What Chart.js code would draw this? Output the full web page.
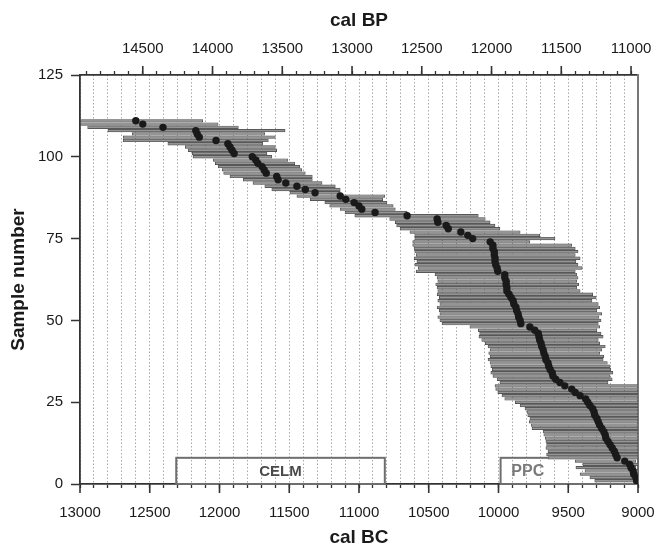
<!DOCTYPE html>
<html>
<head>
<meta charset="utf-8">
<script src="https://cdn.jsdelivr.net/npm/chart.js@4.4.0/dist/chart.umd.min.js"></script>
<style>
  html, body { margin: 0; padding: 0; background: #fff; }
</style>
</head>
<body>
<canvas id="calChart" width="656" height="549"></canvas>
<script>
// one entry per sample, sample 1 first (bottom of the plot)
const medianBC = [
  9010, 9015, 9030, 9035, 9050, 9060, 9095, 9150, 9160, 9170,
  9185, 9200, 9215, 9230, 9235, 9245, 9260, 9275, 9285, 9295,
  9310, 9315, 9325, 9345, 9360, 9375, 9415, 9450, 9475, 9525,
  9560, 9590, 9610, 9615, 9630, 9640, 9645, 9660, 9665, 9675,
  9680, 9690, 9695, 9705, 9710, 9715, 9740, 9775, 9840, 9845,
  9855, 9860, 9870, 9875, 9890, 9895, 9910, 9925, 9940, 9940,
  9945, 9945, 9955, 9955, 10005, 10010, 10020, 10025, 10025, 10030,
  10030, 10040, 10040, 10060, 10185, 10220, 10270, 10360, 10375, 10435,
  10440, 10655, 10885, 10980, 11000, 11035, 11095, 11135, 11315, 11385,
  11445, 11525, 11580, 11590, 11665, 11680, 11695, 11725, 11740, 11765,
  11895, 11910, 11925, 11940, 12025, 12145, 12160, 12170, 12405, 12550, 12600
];
const olderBC = [
  9310, 9345, 9415, 9380, 9445, 9395, 9450, 9645, 9655, 9645,
  9660, 9655, 9660, 9665, 9675, 9680, 9760, 9765, 9780, 9775,
  9790, 9795, 9810, 9845, 9880, 9955, 9975, 10005, 10020, 10025,
  9990, 10010, 10040, 10055, 10045, 10055, 10060, 10075, 10060, 10070,
  10060, 10075, 10095, 10120, 10140, 10135, 10145, 10205, 10405, 10420,
  10435, 10420, 10425, 10440, 10420, 10435, 10425, 10440, 10435, 10440,
  10450, 10435, 10440, 10455, 10590, 10575, 10600, 10585, 10605, 10590,
  10600, 10605, 10615, 10615, 10600, 10600, 10635, 10705, 10730, 10740,
  10780, 11030, 11100, 11135, 11210, 11245, 11350, 11445, 11495, 11625,
  11675, 11760, 11830, 11925, 11970, 11980, 12010, 12030, 12045, 12190,
  12195, 12225, 12245, 12370, 12690, 12690, 12625, 12800, 12945, 12995, 12995
];
const youngerBC = [
  9000, 9000, 9010, 9000, 9015, 9000, 9015, 9000, 9000, 9000,
  9000, 9000, 9000, 9000, 9000, 9000, 9000, 9000, 9000, 9000,
  9000, 9000, 9000, 9000, 9000, 9000, 9000, 9000, 9000, 9000,
  9215, 9185, 9200, 9180, 9195, 9200, 9220, 9250, 9245, 9275,
  9260, 9235, 9275, 9285, 9250, 9265, 9295, 9275, 9285, 9265,
  9280, 9260, 9295, 9275, 9285, 9330, 9300, 9325, 9415, 9440,
  9425, 9440, 9430, 9440, 9450, 9400, 9430, 9445, 9415, 9450,
  9430, 9450, 9475, 9775, 9595, 9705, 9845, 9990, 10025, 10060,
  10095, 10145, 10655, 10740, 10755, 10800, 10830, 10815, 11135, 11135,
  11170, 11265, 11335, 11335, 11385, 11410, 11425, 11460, 11510, 11625,
  11660, 11590, 11600, 11690, 11650, 11600, 11675, 11530, 11865, 12010, 12120
];

const bcTicks = [13000, 12500, 12000, 11500, 11000, 10500, 10000, 9500, 9000];
const bpTicks = [14500, 14000, 13500, 13000, 12500, 12000, 11500, 11000];
const sampleTicks = [0, 25, 50, 75, 100, 125];

const periodNames = ['CELM', 'PPC'];
const periodStart = [12310, 9985];
const periodEnd = [10815, 9000];
const periodLabelAt = [11563, 9790];

Chart.defaults.font.family = '"Liberation Sans", Arial, sans-serif';
Chart.defaults.color = '#1a1a1a';

function hundreds(from, to) {
  const out = [];
  for (let v = from; v <= to; v += 100) out.push({ value: v });
  return out;
}

const periodBoxes = {
  id: 'periodBoxes',
  beforeDatasetsDraw(chart) {
    const { ctx, scales: { x, y } } = chart;
    const top = y.getPixelForValue(8);
    const bottom = y.getPixelForValue(0);
    ctx.save();
    periodNames.forEach((name, i) => {
      const x1 = x.getPixelForValue(periodStart[i]);
      const x2 = x.getPixelForValue(periodEnd[i]);
      ctx.strokeStyle = '#6e6e6e';
      ctx.lineWidth = 2;
      ctx.strokeRect(x1, top, x2 - x1, bottom - top);
      ctx.fillStyle = i === 0 ? '#4a4a4a' : '#7a7a7a';
      ctx.font = (i === 0 ? 'bold 15px ' : 'bold 16px ') + Chart.defaults.font.family;
      ctx.textAlign = 'center';
      ctx.textBaseline = 'middle';
      ctx.fillText(name, x.getPixelForValue(periodLabelAt[i]), (top + bottom) / 2 + 1);
    });
    ctx.restore();
  }
};

const majorTicks = {
  id: 'majorTicks',
  afterDraw(chart) {
    const { ctx, chartArea, scales } = chart;
    ctx.save();
    ctx.strokeStyle = '#333';
    ctx.lineWidth = 1.6;
    ctx.beginPath();
    bcTicks.forEach(v => {
      const px = scales.x.getPixelForValue(v);
      ctx.moveTo(px, chartArea.bottom);
      ctx.lineTo(px, chartArea.bottom + 9);
    });
    bpTicks.forEach(v => {
      const px = scales.xTop.getPixelForValue(v);
      ctx.moveTo(px, chartArea.top);
      ctx.lineTo(px, chartArea.top - 9);
    });
    ctx.stroke();
    ctx.restore();
  }
};

const ctx = document.getElementById('calChart').getContext('2d');
const calChart = new Chart(ctx, {
  type: 'bar',
  data: {
    datasets: [
      {
        type: 'scatter',
        label: 'Median',
        data: medianBC.map((m, i) => ({ x: m, y: i + 1 })),
        pointRadius: 3.7,
        pointBackgroundColor: '#1a1a1a',
        pointBorderWidth: 0,
        order: 1
      },
      {
        type: 'bar',
        label: 'Range',
        data: medianBC.map((m, i) => ({ y: i + 1, x: [olderBC[i], youngerBC[i]] })),
        backgroundColor: '#949494',
        borderColor: '#454545',
        borderWidth: 0.7,
        borderSkipped: false,
        barThickness: 2.7,
        order: 2
      }
    ]
  },
  options: {
    indexAxis: 'y',
    responsive: false,
    animation: false,
    devicePixelRatio: 1,
    layout: { padding: 0 },
    plugins: {
      legend: { display: false },
      tooltip: { enabled: false }
    },
    scales: {
      x: {
        type: 'linear',
        position: 'bottom',
        min: 9000,
        max: 13000,
        reverse: true,
        afterBuildTicks: s => { s.ticks = hundreds(9000, 13000); },
        afterFit: s => { s.height = 65; },
        ticks: {
          autoSkip: false,
          maxRotation: 0,
          padding: 16,
          font: { size: 15 },
          callback: v => bcTicks.includes(v) ? String(v) : ''
        },
        grid: {
          color: '#a8a8a8',
          lineWidth: 1,
          tickLength: 4,
          tickColor: '#333',
          tickWidth: 1.3
        },
        border: { color: '#333', width: 1.8, dash: [1.5, 2] },
        title: {
          display: true,
          text: 'cal BC',
          font: { size: 19, weight: 'bold' },
          padding: { top: 0, bottom: 0 }
        }
      },
      xTop: {
        type: 'linear',
        position: 'top',
        min: 10950,
        max: 14950,
        reverse: true,
        afterBuildTicks: s => { s.ticks = hundreds(11000, 14900); },
        afterFit: s => { s.height = 75; },
        ticks: {
          autoSkip: false,
          maxRotation: 0,
          padding: 13,
          font: { size: 15 },
          callback: v => bpTicks.includes(v) ? String(v) : ''
        },
        grid: {
          drawOnChartArea: false,
          tickLength: 4,
          tickColor: '#333',
          tickWidth: 1.3
        },
        border: { color: '#333', width: 1.8 },
        title: {
          display: true,
          text: 'cal BP',
          font: { size: 19, weight: 'bold' },
          padding: { top: 9, bottom: 0 }
        }
      },
      y: {
        type: 'linear',
        position: 'left',
        min: 0,
        max: 125,
        offset: false,
        afterBuildTicks: s => { s.ticks = sampleTicks.map(v => ({ value: v })); },
        afterFit: s => { s.width = 80; },
        ticks: { padding: 8, font: { size: 15 } },
        grid: {
          drawOnChartArea: false,
          offset: false,
          tickLength: 9,
          tickColor: '#333',
          tickWidth: 1.5
        },
        border: { color: '#333', width: 1.8 },
        title: {
          display: true,
          text: 'Sample number',
          font: { size: 19, weight: 'bold' },
          padding: { top: 7, bottom: 0 }
        }
      },
      yRight: {
        type: 'linear',
        position: 'right',
        min: 0,
        max: 125,
        afterFit: s => { s.width = 18; },
        ticks: { display: false },
        grid: { display: false },
        border: { color: '#777', width: 2 }
      }
    }
  },
  plugins: [periodBoxes, majorTicks]
});
</script>
</body>
</html>
